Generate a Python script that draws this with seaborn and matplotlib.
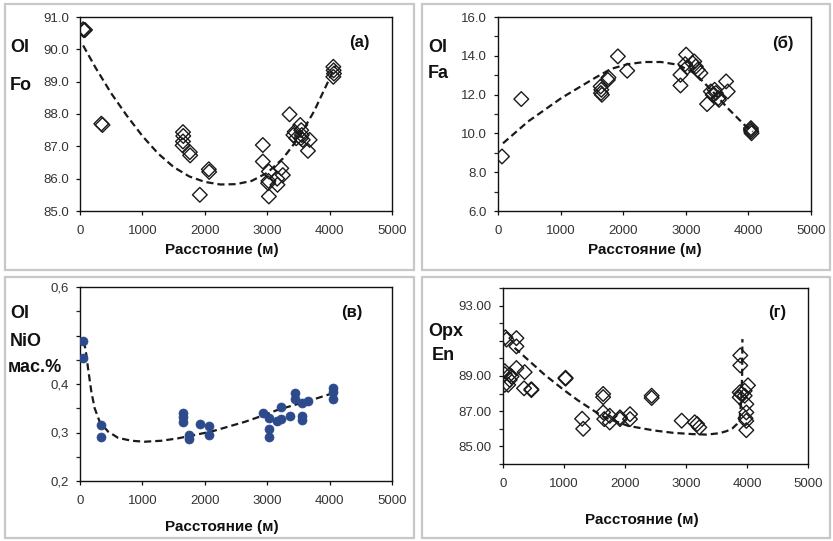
import numpy as np
import matplotlib
matplotlib.use('Agg')
import matplotlib.pyplot as plt
import seaborn as sns
from matplotlib.patches import Rectangle
from matplotlib.ticker import MultipleLocator

# (a) Ol Fo
a_x = [50, 64, 80, 342, 360, 1650, 1655, 1650, 1645, 1760, 1765, 2064, 2070, 1920,
       2930, 2930, 3027, 3015, 3020, 3027, 3160, 3165, 3225, 3250, 3358,
       3420, 3440, 3465, 3530, 3545, 3555, 3570, 3540, 3680, 3653,
       4060, 4065, 4070, 4060]
a_y = [90.62, 90.59, 90.6, 87.70, 87.66, 87.44, 87.32, 87.15, 87.03, 86.82, 86.72, 86.29, 86.21, 85.50,
       87.04, 86.53, 86.22, 85.86, 85.93, 85.45, 86.00, 85.81, 86.32, 86.11, 87.99,
       87.35, 87.45, 87.25, 87.66, 87.50, 87.35, 87.20, 87.25, 87.20, 86.86,
       89.46, 89.35, 89.25, 89.15]
a_cx = [50, 250, 500, 750, 1000, 1250, 1500, 1750, 2000, 2250, 2500, 2750, 3000,
        3250, 3500, 3750, 4000, 4100]
a_cy = [90.12, 89.43, 88.64, 87.95, 87.32, 86.78, 86.36, 86.07, 85.90, 85.82, 85.83,
        85.93, 86.18, 86.62, 87.25, 88.08, 89.10, 89.50]

# (б) Ol Fa
b_x = [64, 372, 1640, 1650, 1645, 1660, 1755, 1765, 1915, 2064, 2915, 2915, 3005, 2990,
       3020, 3110, 3135, 3160, 3190, 3234, 3340, 3400, 3430, 3460, 3480, 3520, 3530,
       3644, 3670, 4040, 4045, 4050, 4040]
b_y = [8.81, 11.77, 12.42, 12.25, 12.08, 11.99, 12.76, 12.88, 13.97, 13.23, 13.02, 12.47,
       14.06, 13.57, 13.40, 13.62, 13.71, 13.45, 13.28, 13.11, 11.51, 12.16, 11.99, 12.25,
       12.08, 11.82, 11.73, 12.68, 12.16, 10.27, 10.10, 10.01, 10.18]
b_cx = [80, 479, 1011, 1543, 1809, 2074, 2340, 2606, 2872, 3138, 3404, 3670, 3936, 4070]
b_cy = [9.49, 10.61, 11.82, 12.85, 13.33, 13.57, 13.68, 13.68, 13.54, 13.11, 12.25,
        11.30, 10.44, 10.10]

# (в) Ol NiO
c_x = [48, 48, 342, 342, 1652, 1652, 1652, 1749, 1749, 1920, 2070, 2070, 2925, 3027,
       3027, 3027, 3150, 3219, 3219, 3358, 3444, 3444, 3551, 3551, 3551, 3658,
       4059, 4059, 4059]
c_y = [0.489, 0.453, 0.316, 0.291, 0.341, 0.331, 0.321, 0.295, 0.287, 0.318, 0.313, 0.295,
       0.340, 0.329, 0.307, 0.291, 0.324, 0.328, 0.353, 0.333, 0.381, 0.369, 0.360,
       0.333, 0.326, 0.365, 0.391, 0.383, 0.369]
c_cx = [64, 102, 128, 182, 235, 316, 449, 610, 824, 1037, 1305, 1572, 1840, 2107, 2374,
        2642, 2909, 3176, 3444, 3711, 3979, 4128]
c_cy = [0.488, 0.460, 0.433, 0.384, 0.350, 0.322, 0.302, 0.289, 0.283, 0.281, 0.283,
        0.288, 0.295, 0.302, 0.312, 0.322, 0.334, 0.347, 0.357, 0.367, 0.378, 0.383]

# (г) Opx En
d_x = [40, 57, 220, 220, 30, 30, 110, 140, 110, 85, 30, 220, 355, 345, 465, 465,
       1025, 1025, 1297, 1315, 1642, 1642, 1642, 1660, 1750, 1750, 1918, 1918, 2082, 2082,
       2437, 2437, 2929, 3143, 3183, 3217, 3890, 3890, 4016, 3880, 3907, 3880, 3962,
       3962, 3989, 3989, 3989, 3989, 3975]
d_y = [91.20, 91.07, 91.15, 90.68, 89.27, 89.10, 89.07, 88.97, 88.78, 88.50, 88.50, 89.45,
       89.22, 88.30, 88.20, 88.25, 88.90, 88.85, 86.57, 86.00, 87.98, 87.80, 86.93, 86.55,
       86.74, 86.36, 86.65, 86.55, 86.83, 86.55, 87.88, 87.75, 86.46, 86.37, 86.27, 86.08,
       90.17, 89.60, 88.47, 88.07, 87.98, 87.79, 88.16, 87.88, 87.40, 86.93, 86.45,
       85.92, 86.60]
d_cx = [190, 400, 683, 1000, 1235, 1500, 1667, 2049, 2240, 2487, 2792, 3100, 3339, 3550,
        3667, 3760, 3830, 3880, 3905, 3920, 3925]
d_cy = [90.60, 89.95, 89.07, 88.20, 87.60, 87.00, 86.65, 86.17, 86.05, 85.90, 85.77,
        85.70, 85.67, 85.75, 85.87, 86.02, 86.25, 86.60, 87.60, 89.00, 91.10]

x_ticks = [0, 1000, 2000, 3000, 4000, 5000]

sns.set_style('ticks')
plt.rcParams['font.family'] = ['Liberation Sans', 'DejaVu Sans']

W, H = 833, 541
fig = plt.figure(figsize=(8.33, 5.41), dpi=100)


def box(l, t, r, b):
    return [l / W, 1 - b / H, (r - l) / W, (b - t) / H]


# grey panel frames
for l, t, r, b in [(5, 4, 414, 270), (422, 4, 830, 270), (5, 277, 414, 538), (422, 277, 830, 538)]:
    fig.patches.append(Rectangle((l / W, 1 - b / H), (r - l) / W, (b - t) / H,
                                 transform=fig.transFigure, fill=False,
                                 edgecolor='#c8c8c8', lw=1.6))


def style_axes(ax, xpad=7):
    ax.set_xlim(0, 5000)
    ax.set_xticks(x_ticks)
    ax.tick_params(direction='out', length=3, width=0.9, colors='#111',
                   labelsize=9.5, labelcolor='#333')
    ax.tick_params(axis='x', pad=xpad)
    ax.tick_params(axis='y', pad=5)
    ax.tick_params(which='minor', direction='out', length=3, width=0.9)
    for s in ax.spines.values():
        s.set_visible(True)
        s.set_linewidth(1.0)
        s.set_color('#111')
    ax.set_xlabel('')
    ax.set_ylabel('')


def diamonds(ax, x, y):
    sns.scatterplot(x=x, y=y, ax=ax, marker='D', s=56, facecolor='none',
                    edgecolor='#1a1a1a', linewidth=1.0, zorder=3)


def trend(ax, x, y):
    sns.lineplot(x=x, y=y, ax=ax, color='#1a1a1a', lw=1.6, linestyle=(0, (3.2, 1.8)),
                 sort=False, estimator=None, zorder=2)


bold = dict(fontweight='bold', color='#111')

# (a)
ax = fig.add_axes(box(80, 17, 392, 211))
trend(ax, a_cx, a_cy)
diamonds(ax, a_x, a_y)
style_axes(ax)
ax.set_ylim(85, 91)
ax.set_yticks(np.arange(85, 91.5, 1))
ax.set_yticklabels([f'{v:.1f}' for v in np.arange(85, 91.5, 1)])

# (б)
ax = fig.add_axes(box(498, 17, 811, 211))
trend(ax, b_cx, b_cy)
diamonds(ax, b_x, b_y)
style_axes(ax)
ax.set_ylim(6, 16)
ax.set_yticks(np.arange(6, 16.5, 2))
ax.set_yticklabels([f'{v:.1f}' for v in np.arange(6, 16.5, 2)])
ax.yaxis.set_minor_locator(MultipleLocator(1))

# (в)
ax = fig.add_axes(box(80, 287, 392, 481))
trend(ax, c_cx, c_cy)
sns.scatterplot(x=c_x, y=c_y, ax=ax, marker='o', s=42, color='#2c4a8c',
                edgecolor='#2c4a8c', linewidth=0.5, zorder=3)
style_axes(ax)
ax.set_ylim(0.2, 0.6)
ax.set_yticks([0.2, 0.3, 0.4, 0.5, 0.6])
ax.set_yticklabels(['0,2', '0,3', '0,4', '', '0,6'])
ax.yaxis.set_minor_locator(MultipleLocator(0.05))

# (г)
ax = fig.add_axes(box(503, 288, 808, 464))
trend(ax, d_cx, d_cy)
diamonds(ax, d_x, d_y)
style_axes(ax, xpad=7)
ax.set_ylim(84, 94)
ax.set_yticks([85, 87, 89, 91, 93])
ax.set_yticklabels(['85.00', '87.00', '89.00', '', '93.00'])
ax.yaxis.set_minor_locator(MultipleLocator(1))


def ftext(x, y, s, size, ha='left'):
    fig.text(x / W, 1 - y / H, s, ha=ha, va='center', fontsize=size, **bold)


# side labels
ftext(10, 48, 'Ol', 13)
ftext(10, 86, 'Fo', 13)
ftext(428, 47, 'Ol', 13)
ftext(428, 74, 'Fa', 13)
ftext(10, 313, 'Ol', 13)
ftext(10, 342, 'NiO', 13)
ftext(8, 367, 'мас.%', 13)
ftext(428, 331, 'Opx', 13)
ftext(432, 355, 'En', 13)

# panel letters
ftext(359, 43, '(a)', 12, ha='center')
ftext(783, 43, '(б)', 12, ha='center')
ftext(352, 313, '(в)', 12, ha='center')
ftext(777, 313, '(г)', 12, ha='center')

# x labels
for x, y in [(222, 250), (645, 250), (222, 527), (642, 520)]:
    ftext(x, y, 'Расстояние (м)', 11, ha='center')

fig.savefig('out.png', dpi=100, facecolor='white')
